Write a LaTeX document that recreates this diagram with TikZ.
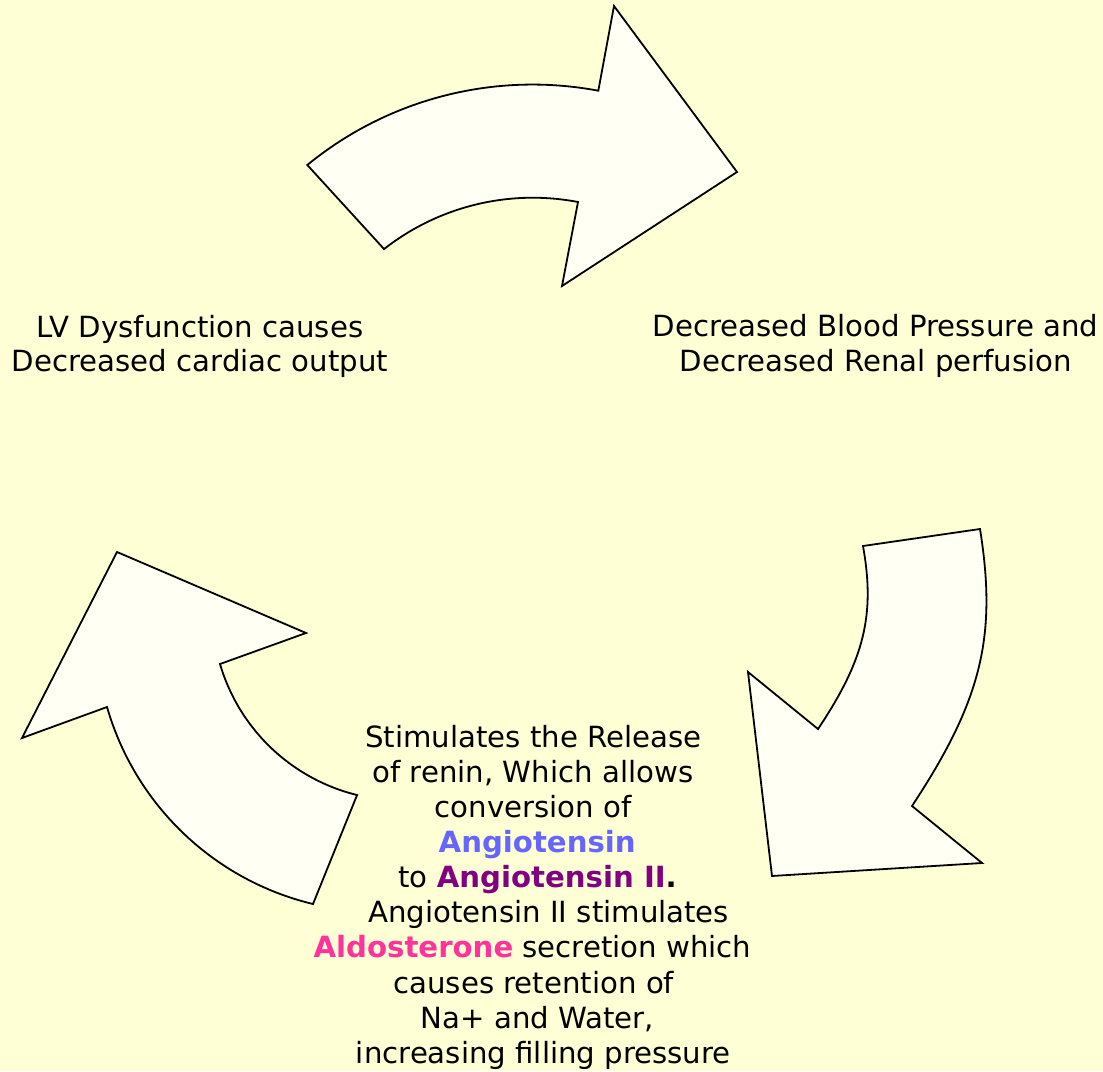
\documentclass[tikz,border=0pt]{standalone}
\usepackage{fontspec}
\setmainfont{DejaVu Sans}
\definecolor{bg}{HTML}{FFFFD6}
\definecolor{arrowfill}{HTML}{FFFFF4}
\definecolor{angblue}{HTML}{6666FF}
\definecolor{angpurple}{HTML}{800080}
\definecolor{aldopink}{HTML}{FF3399}
\begin{document}
\begin{tikzpicture}[x=1pt,y=-1pt,
  bigarrow/.style={draw=black,line width=1.8pt,fill=arrowfill,line join=miter},
  txt/.style={anchor=base,inner sep=0pt,font=\fontsize{29.2}{35}\selectfont}]
\fill[bg] (0,0) rectangle (1103,1071);
\useasboundingbox (0,0) rectangle (1103,1071);

% top arrow (circular, centre (532.5,440))
\draw[bigarrow] (307.3,165) arc[start angle=-129.31, end angle=-79.33, radius=355.5]
  -- (614,6) -- (737,172) -- (562,286) -- (578,202)
  arc[start angle=-79.18, end angle=-128.1, radius=241] -- cycle;

% right arrow
\draw[bigarrow] (863,546) -- (980,529)
  .. controls (997,635.5) and (982.3,699.5) .. (912,806)
  -- (982,863) -- (772,876) -- (748,672) -- (818,729)
  .. controls (864.2,660) and (875.4,615) .. (863,546) -- cycle;

% left arrow
\draw[bigarrow] (117,552) -- (306,633) -- (220,664)
  arc[start angle=163.64, end angle=103.77, radius=190]
  -- (313,904)
  arc[start angle=103.5, end angle=163.95, radius=283.1]
  -- (22,738) -- cycle;

% texts
\node[txt] (lv1) at (200,337.3) {LV Dysfunction causes};
\node[txt] (lv2) at (200,371.7) {Decreased cardiac output};
\node[txt] (bp1) at (875.5,336.7) {Decreased Blood Pressure and};
\node[txt] (bp2) at (875.8,371.7) {Decreased Renal perfusion};

\node[txt] (t1) at (533.3,747.3) {Stimulates the Release};
\node[txt] (t2) at (532.8,782.4) {of renin, Which allows};
\node[txt] (t3) at (533.3,817.5) {conversion of};
\node[txt] (t4) at (537.2,852.6) {\textcolor{angblue}{\textbf{Angiotensin}}};
\node[txt] (t5) at (537.5,887.7) {to \textcolor{angpurple}{\textbf{Angiotensin II}}\textbf{.}};
\node[txt] (t6) at (548.7,922.8) {Angiotensin II stimulates};
\node[txt] (t7) at (532.5,957.9) {\textcolor{aldopink}{\textbf{Aldosterone}} secretion which};
\node[txt] (t8) at (533.8,993.0) {causes retention of};
\node[txt] (t9) at (537.5,1028.1) {Na+ and Water,};
\node[txt] (t10) at (543.3,1063.2) {increasing filling pressure};
\end{tikzpicture}
\end{document}
